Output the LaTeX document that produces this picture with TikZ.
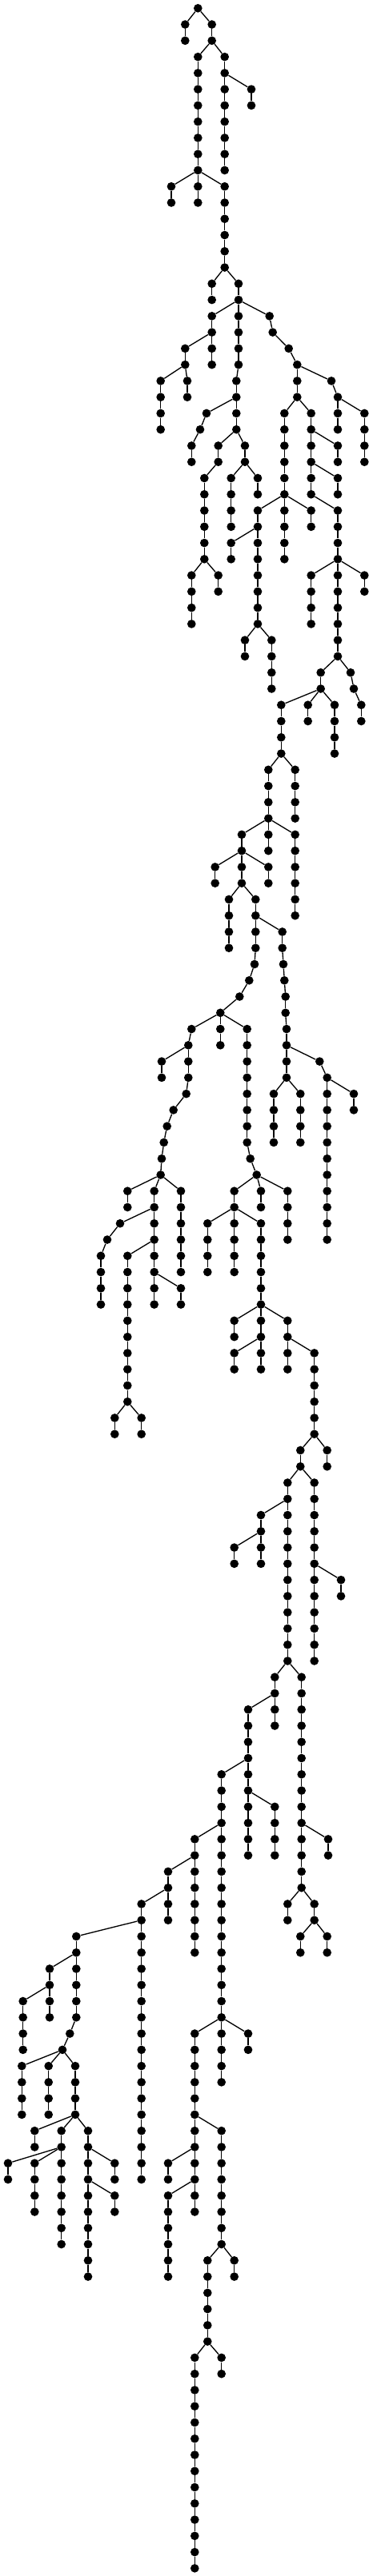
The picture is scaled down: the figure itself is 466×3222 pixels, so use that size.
\documentclass[tikz,border=0pt]{standalone}
\tikzset{
  dot/.style={circle,fill=black,draw=none,inner sep=0pt,minimum size=8pt},
  edge/.style={draw=black,line width=1pt}
}
\newcommand\chain[5]{%
  \foreach \lv in {#4,...,#5}{%
    \pgfmathtruncatemacro\pv{\lv-1}%
    \node[dot] (#1\lv) at (#3,{10.3+20.266*\lv}) {};
    \ifnum\lv=#4\relax
      \draw[edge] (#2) -- (#1\lv);
    \else
      \draw[edge] (#1\pv) -- (#1\lv);
    \fi
  }%
}
\begin{document}
\begin{tikzpicture}[x=0.75pt,y=-0.75pt]
\useasboundingbox (0,0) rectangle (466,3222);
\node[dot] (r0) at (247.3,10.3) {};
\chain{a}{r0}{231.3}{1}{2}
\chain{b}{r0}{264.7}{1}{2}
\chain{c}{b2}{247.3}{3}{10}
\chain{d}{b2}{280.7}{3}{10}
\chain{e}{d4}{314}{5}{6}
\chain{f}{c10}{214}{11}{12}
\chain{g}{c10}{247.3}{11}{12}
\chain{h}{c10}{280.7}{11}{16}
\chain{i}{h16}{264.7}{17}{18}
\chain{j}{h16}{298}{17}{18}
\chain{k}{j18}{264.7}{19}{20}
\chain{l}{j18}{298}{19}{22}
\chain{m}{j18}{336.7}{19}{19}
\chain{n}{m19}{340.7}{20}{20}
\chain{o}{n20}{360.7}{21}{21}
\chain{p}{k20}{231.3}{21}{22}
\chain{q}{k20}{264.7}{21}{22}
\chain{s}{p22}{200.7}{23}{26}
\chain{t}{p22}{234}{23}{24}
\chain{u}{l22}{295.3}{23}{26}
\chain{v}{u24}{258}{25}{25}
\chain{w}{v25}{250}{26}{26}
\chain{x}{w26}{239.3}{27}{28}
\chain{y}{u26}{272.7}{27}{28}
\chain{z}{u26}{306}{27}{28}
\chain{aa}{y28}{255.3}{29}{34}
\chain{ab}{aa34}{239.3}{35}{38}
\chain{ac}{aa34}{272.7}{35}{36}
\chain{ad}{z28}{288.7}{29}{32}
\chain{ae}{z28}{322}{29}{30}
\chain{af}{o21}{371.3}{22}{24}
\chain{ag}{af22}{414}{23}{23}
\chain{ah}{ag23}{422}{24}{24}
\chain{ai}{ah24}{422}{25}{26}
\chain{aj}{ah24}{455.3}{25}{28}
\chain{ak}{af24}{355.3}{25}{30}
\chain{al}{af24}{388.7}{25}{30}
\chain{am}{al26}{422}{27}{28}
\chain{an}{al28}{422}{29}{30}
\chain{ao}{al30}{422}{31}{34}
\chain{ap}{ak30}{322}{31}{38}
\chain{aq}{ak30}{355.3}{31}{34}
\chain{ar}{ak30}{388.7}{31}{32}
\chain{as}{ap32}{288.7}{33}{34}
\chain{at}{ap38}{306}{39}{40}
\chain{au}{ap38}{339.3}{39}{42}
\chain{av}{ao34}{388.7}{35}{38}
\chain{aw}{ao34}{422}{35}{40}
\chain{ax}{ao34}{455.3}{35}{36}
\chain{ay}{aw40}{400.7}{41}{42}
\chain{az}{aw40}{438}{41}{41}
\chain{ba}{az41}{442}{42}{42}
\chain{bb}{ba42}{451.3}{43}{44}
\chain{bc}{ay42}{351.3}{43}{46}
\chain{bd}{ay42}{384.7}{43}{44}
\chain{be}{ay42}{418}{43}{46}
\chain{bf}{bc46}{335.3}{47}{50}
\chain{bg}{bc46}{368.7}{47}{50}
\chain{bh}{bf50}{302}{51}{54}
\chain{bi}{bf50}{335.3}{51}{52}
\chain{bj}{bf50}{368.7}{51}{56}
\chain{bk}{bh52}{268.7}{53}{54}
\chain{bl}{bh52}{335.3}{53}{54}
\chain{bm}{bh54}{286}{55}{58}
\chain{bn}{bh54}{319.3}{55}{58}
\chain{bo}{bn56}{352.7}{57}{58}
\chain{bp}{bn58}{318}{59}{59}
\chain{bq}{bo58}{354}{59}{59}
\chain{br}{bp59}{311.3}{60}{60}
\chain{bs}{br60}{299.3}{61}{61}
\chain{bt}{bs61}{275.3}{62}{62}
\chain{bu}{bt62}{239.3}{63}{63}
\chain{bv}{bt62}{275.3}{63}{64}
\chain{bw}{bt62}{308.7}{63}{70}
\chain{bx}{bw70}{312.7}{71}{71}
\chain{by}{bx71}{320.7}{72}{72}
\chain{bz}{by72}{292.7}{73}{74}
\chain{ca}{by72}{326}{73}{74}
\chain{cb}{by72}{359.3}{73}{76}
\chain{cc}{bz74}{259.3}{75}{78}
\chain{cd}{bz74}{292.7}{75}{78}
\chain{ce}{bz74}{326}{75}{80}
\chain{cf}{ce80}{292.7}{81}{82}
\chain{cg}{ce80}{326}{81}{84}
\chain{ch}{ce80}{359.3}{81}{84}
\chain{ci}{cg82}{292.7}{83}{84}
\chain{cj}{ch82}{392.7}{83}{88}
\chain{ck}{cj88}{375.3}{89}{90}
\chain{cl}{cj88}{408.7}{89}{90}
\chain{cm}{bu63}{235.3}{64}{66}
\chain{cn}{cm64}{202}{65}{66}
\chain{co}{cm66}{232.7}{67}{67}
\chain{cp}{co67}{216.7}{68}{68}
\chain{cq}{cp68}{208.7}{69}{69}
\chain{cr}{cq69}{204.7}{70}{70}
\chain{cs}{cr70}{202}{71}{71}
\chain{ct}{cs71}{200.7}{72}{72}
\chain{cu}{ct72}{159.3}{73}{74}
\chain{cv}{ct72}{192.7}{73}{80}
\chain{cw}{ct72}{226}{73}{78}
\chain{cx}{cv74}{150}{75}{75}
\chain{cy}{cx75}{134}{76}{76}
\chain{cz}{cy76}{126}{77}{80}
\chain{da}{cv76}{159.3}{77}{86}
\chain{db}{cv78}{226}{79}{80}
\chain{dc}{da86}{143.3}{87}{88}
\chain{dd}{da86}{176.7}{87}{88}
\chain{de}{bq59}{355.3}{60}{60}
\chain{df}{de60}{356.7}{61}{62}
\chain{dg}{df62}{358}{63}{66}
\chain{dh}{dg64}{399.3}{65}{65}
\chain{di}{dh65}{408.7}{66}{76}
\chain{dj}{di66}{442}{67}{68}
\chain{dk}{dg66}{342}{67}{70}
\chain{dl}{dg66}{375.3}{67}{70}
\chain{dm}{ck90}{359.3}{91}{102}
\chain{dn}{ck90}{392.7}{91}{102}
\chain{do}{dn96}{426}{97}{98}
\chain{dp}{dm92}{326}{93}{96}
\chain{dq}{dp94}{292.7}{95}{96}
\chain{dr}{dm102}{343.3}{103}{106}
\chain{ds}{dm102}{376.7}{103}{116}
\chain{dt}{ds112}{410}{113}{114}
\chain{du}{dr104}{310}{105}{114}
\chain{dv}{du110}{343.3}{111}{114}
\chain{dw}{du108}{276.7}{109}{124}
\chain{dx}{dw112}{243.3}{113}{120}
\chain{dy}{dx114}{210}{115}{118}
\chain{dz}{dy116}{176.7}{117}{134}
\chain{ea}{dz118}{95.3}{119}{124}
\chain{eb}{ea120}{62}{121}{124}
\chain{ec}{eb122}{28.7}{123}{126}
\chain{ed}{ea124}{87.3}{125}{125}
\chain{ee}{ed125}{78}{126}{126}
\chain{ef}{ee126}{27.3}{127}{130}
\chain{eg}{ee126}{60.7}{127}{130}
\chain{eh}{ee126}{94}{127}{130}
\chain{ei}{eh130}{43.3}{131}{132}
\chain{ej}{eh130}{76.7}{131}{138}
\chain{ek}{eh130}{110}{131}{140}
\chain{el}{ej132}{10}{133}{134}
\chain{em}{ej132}{43.3}{133}{136}
\chain{en}{ek132}{143.3}{133}{134}
\chain{eo}{ek134}{143.3}{135}{136}
\chain{ep}{dw124}{243.3}{125}{136}
\chain{eq}{dw124}{276.7}{125}{128}
\chain{er}{dw124}{310}{125}{126}
\chain{es}{ep130}{276.7}{131}{138}
\chain{et}{ep132}{210}{133}{134}
\chain{eu}{ep134}{210}{135}{140}
\chain{ev}{es138}{259.3}{139}{144}
\chain{ew}{es138}{292.7}{139}{140}
\chain{ex}{ev144}{243.3}{145}{158}
\chain{ey}{ev144}{276.7}{145}{146}
\chain{ez}{ds116}{359.3}{117}{118}
\chain{fa}{ds116}{392.7}{117}{118}
\chain{fb}{fa118}{375.3}{119}{120}
\chain{fc}{fa118}{408.7}{119}{120}
\end{tikzpicture}
\end{document}
